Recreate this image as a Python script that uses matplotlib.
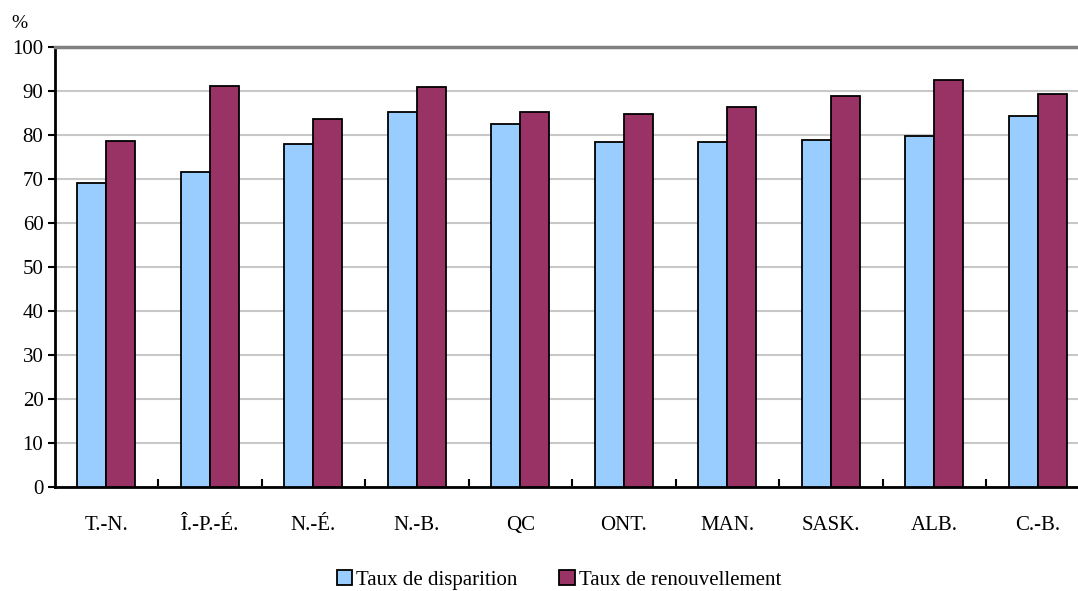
import matplotlib
matplotlib.use("Agg")
import matplotlib.pyplot as plt
from matplotlib.patches import Patch
import numpy as np

plt.rcParams['font.family'] = ['Liberation Serif', 'DejaVu Serif']

categories = ["T.-N.", "Î.-P.-É.", "N.-É.", "N.-B.", "QC", "ONT.", "MAN.", "SASK.", "ALB.", "C.-B."]
taux_disparition = [69.0, 71.7, 78.0, 85.3, 82.6, 78.5, 78.5, 78.9, 79.8, 84.4]
taux_renouvellement = [78.6, 91.2, 83.6, 90.8, 85.3, 84.8, 86.3, 88.9, 92.6, 89.3]
series_labels = ["Taux de disparition", "Taux de renouvellement"]
y_ticks = list(range(0, 101, 10))

blue = "#99ccff"
wine = "#993366"

fig = plt.figure(figsize=(10.78, 5.91), dpi=100)
ax = fig.add_axes([54.5 / 1078, 104 / 591, 1035 / 1078, 440 / 591])

x = np.arange(len(categories))
w = 0.28
ax.bar(x - w / 2, taux_disparition, width=w, color=blue, edgecolor="black", linewidth=1.3, zorder=3)
ax.bar(x + w / 2, taux_renouvellement, width=w, color=wine, edgecolor="black", linewidth=1.3, zorder=3)

ax.set_xlim(-0.5, len(categories) - 0.5)
ax.set_ylim(0, 100)
ax.set_yticks(y_ticks)
ax.set_yticklabels([str(v) for v in y_ticks], fontsize=15)
ax.yaxis.grid(True, color="#c8c8c8", linewidth=1.5, zorder=0)
ax.set_axisbelow(True)

# category labels centred, boundary ticks drawn inside
ax.set_xticks(x)
ax.set_xticklabels(categories, fontsize=15)
ax.tick_params(axis="x", which="major", length=0, pad=21)
ax.set_xticks(np.arange(0.5, len(categories) - 0.5, 1.0), minor=True)
ax.tick_params(axis="x", which="minor", direction="in", length=6, width=1.5, color="black")
ax.tick_params(axis="y", direction="out", length=5, width=1.5, pad=3)

for side in ("left", "bottom"):
    ax.spines[side].set_color("black")
    ax.spines[side].set_linewidth(2)
ax.spines["right"].set_visible(False)
ax.spines["top"].set_color("#808080")
ax.spines["top"].set_linewidth(2.5)

fig.text(11 / 1078, 1 - 24 / 591, "%", fontsize=14, va="center", ha="left")

handles = [Patch(facecolor=blue, edgecolor="black", linewidth=1.3),
           Patch(facecolor=wine, edgecolor="black", linewidth=1.3)]
fig.legend(handles, series_labels, loc="center", bbox_to_anchor=(559 / 1078, 1 - 580 / 591),
           ncol=2, frameon=False, fontsize=15, handlelength=0.75, handleheight=0.75,
           handletextpad=0.2, columnspacing=2.0)

fig.savefig("out.png", dpi=100)
